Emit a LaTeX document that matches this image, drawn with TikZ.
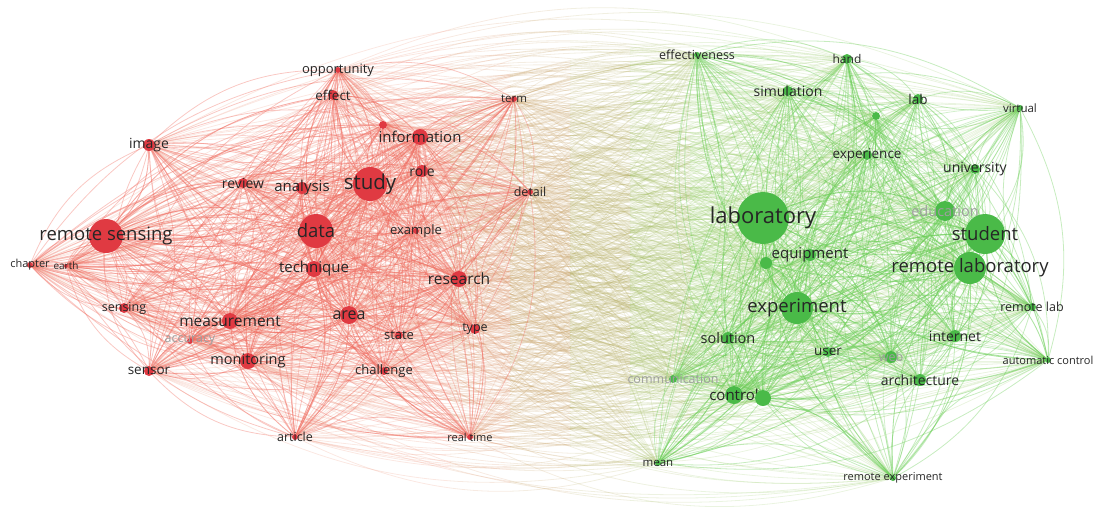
\documentclass[tikz,border=0pt]{standalone}
\usepackage{fontspec}
\setmainfont{Open Sans}
\usetikzlibrary{backgrounds}

\definecolor{vosred}{RGB}{224,58,66}
\definecolor{vosgreen}{RGB}{74,186,72}
\definecolor{redlink}{RGB}{240,110,98}
\definecolor{greenlink}{RGB}{108,206,88}
\definecolor{saltan}{RGB}{234,138,112}
\definecolor{olivelink}{RGB}{150,202,102}

\newcommand\redlist{opportunity,effect,information,redx,role,study,analysis,review,image,rsensing,chapter,earth,data,example,technique,research,area,measurement,sensing,accuracy,monitoring,sensor,state,type,challenge,article,realtime,term,detail}
\newcommand\greenlist{effectiveness,hand,simulation,greenx,lab,virtual,experience,university,laboratory,education,student,rlab,equipment,greeny,experiment,remotelab,solution,internet,user,web,autocontrol,communication,architecture,control,greenz,mean,rexperiment}
\newcommand\redhubs{study,data,rsensing,information,area,measurement,technique,research}
\newcommand\greenhubs{laboratory,experiment,student,rlab,education,control,equipment}

\newcommand\crosslinks[1]{%
  \foreach \a [count=\i] in \redlist {%
    \foreach \b [count=\j] in \greenlist {%
      \ifodd\numexpr\i+\j\relax
        \draw[#1] (\a) to[bend left=22] (\b);
      \else
        \draw[#1] (\b) to[bend left=22] (\a);
      \fi}}}
\newcommand\clusterlinks[2]{%
  \foreach \a [count=\i] in #1 {%
    \foreach \b [count=\j] in #1 {%
      \ifnum\j>\i
        \ifodd\numexpr\i+\j\relax
          \draw[#2] (\a) to[bend left=22] (\b);
        \else
          \draw[#2] (\b) to[bend left=22] (\a);
        \fi
      \fi}}}
\newcommand\hublinks[3]{%
  \foreach \a [count=\i] in #1 {%
    \foreach \b [count=\j] in #2 {%
      \ifodd\numexpr\i+\j\relax
        \draw[#3] (\a) to[bend left=22] (\b);
      \else
        \draw[#3] (\b) to[bend left=22] (\a);
      \fi}}}

\begin{document}
\begin{tikzpicture}[x=1pt,y=-1pt,
  rdot/.style={circle,inner sep=0pt,fill=vosred,minimum size=#1pt},
  gdot/.style={circle,inner sep=0pt,fill=vosgreen,minimum size=#1pt},
  lbl/.style={font=\fontsize{#1}{#1}\selectfont,text=black!85,inner sep=0pt},
  faint/.style={font=\fontsize{#1}{#1}\selectfont,text=black!38,inner sep=0pt},
  link/.style={line width=.8pt,draw opacity=.2}]
\useasboundingbox (0,0) rectangle (1098,531);

\node[rdot=6,label={[lbl=13]center:opportunity}] (opportunity) at (338,70) {};
\node[rdot=10,label={[lbl=13.5]center:effect}] (effect) at (333,95) {};
\node[rdot=8] (redx) at (383,125) {};
\node[rdot=16,label={[lbl=15]center:information}] (information) at (420,137) {};
\node[rdot=12,label={[lbl=14]center:role}] (role) at (422,171) {};
\node[rdot=34,label={[lbl=20.5]center:study}] (study) at (370,184) {};
\node[rdot=12,label={[lbl=15]center:analysis}] (analysis) at (302,188) {};
\node[rdot=10,label={[lbl=14]center:review}] (review) at (243,183) {};
\node[rdot=12,label={[lbl=14]center:image}] (image) at (149,145) {};
\node[rdot=34,label={[lbl=18.5]center:remote sensing}] (rsensing) at (106,236) {};
\node[rdot=6,label={[lbl=11]center:chapter}] (chapter) at (30,265) {};
\node[rdot=4,label={[lbl=10]center:earth}] (earth) at (66,266) {};
\node[rdot=34,label={[lbl=18.5]center:data}] (data) at (316,231) {};
\node[rdot=6,label={[lbl=13]center:example}] (example) at (416,231) {};
\node[rdot=16,label={[lbl=15]center:technique}] (technique) at (314,269) {};
\node[rdot=16,label={[lbl=15.5]center:research}] (research) at (459,279) {};
\node[rdot=18,label={[lbl=16]center:area}] (area) at (349,315) {};
\node[rdot=16,label={[lbl=15.5]center:measurement}] (measurement) at (230,321) {};
\node[rdot=10,label={[lbl=12.5]center:sensing}] (sensing) at (124,308) {};
\node[rdot=6,label={[faint=12.5]center:accuracy}] (accuracy) at (190,341) {};
\node[rdot=16,label={[lbl=14.5]center:monitoring}] (monitoring) at (248,361) {};
\node[rdot=10,label={[lbl=13.5]center:sensor}] (sensor) at (149,371) {};
\node[rdot=8,label={[lbl=13]center:state}] (state) at (399,335) {};
\node[rdot=10,label={[lbl=12.5]center:type}] (type) at (475,329) {};
\node[rdot=8,label={[lbl=13]center:challenge}] (challenge) at (384,371) {};
\node[rdot=6,label={[lbl=12.5]center:article}] (article) at (295,437) {};
\node[rdot=6,label={[lbl=11]center:real time}] (realtime) at (470,437) {};
\node[rdot=6,label={[lbl=11.5]center:term}] (term) at (514,99) {};
\node[rdot=6,label={[lbl=12.5]center:detail}] (detail) at (530,192) {};

\node[gdot=6,label={[lbl=12.5]center:effectiveness}] (effectiveness) at (697,55) {};
\node[gdot=10,label={[lbl=12]center:hand}] (hand) at (847,59) {};
\node[gdot=10,label={[lbl=14]center:simulation}] (simulation) at (788,91) {};
\node[gdot=8] (greenx) at (876,116) {};
\node[gdot=10,label={[lbl=13.5]center:lab}] (lab) at (918,99) {};
\node[gdot=6,label={[lbl=11.5]center:virtual}] (virtual) at (1020,108) {};
\node[gdot=10,label={[lbl=13.5]center:experience}] (experience) at (867,155) {};
\node[gdot=10,label={[lbl=14]center:university}] (university) at (975,169) {};
\node[gdot=52,label={[lbl=22]center:laboratory}] (laboratory) at (763,218) {};
\node[gdot=20,label={[faint=14.5]center:education}] (education) at (945,211) {};
\node[gdot=40,label={[lbl=18.5]center:student}] (student) at (985,234) {};
\node[gdot=32,label={[lbl=18.5]center:remote laboratory}] (rlab) at (970,268) {};
\node[gdot=12,label={[lbl=15]center:equipment}] (equipment) at (810,255) {};
\node[gdot=12] (greeny) at (766,263) {};
\node[gdot=32,label={[lbl=18.5]center:experiment}] (experiment) at (797,308) {};
\node[gdot=8,label={[lbl=12.5]center:remote lab}] (remotelab) at (1032,307) {};
\node[gdot=12,label={[lbl=14.5]center:solution}] (solution) at (728,338) {};
\node[gdot=12,label={[lbl=14]center:internet}] (internet) at (955,336) {};
\node[gdot=10,label={[lbl=13.5]center:user}] (user) at (828,352) {};
\node[gdot=12,label={[faint=12.5]center:web}] (web) at (891,357) {};
\node[gdot=6,label={[lbl=11]center:automatic control}] (autocontrol) at (1048,360) {};
\node[gdot=8,label={[faint=12.5]center:communication}] (communication) at (673,379) {};
\node[gdot=12,label={[lbl=14]center:architecture}] (architecture) at (920,380) {};
\node[gdot=18,label={[lbl=15]center:control}] (control) at (734,395) {};
\node[gdot=16] (greenz) at (763,398) {};
\node[gdot=6,label={[lbl=11.5]center:mean}] (mean) at (658,463) {};
\node[gdot=6,label={[lbl=11]center:remote experiment}] (rexperiment) at (893,478) {};

\begin{scope}[on background layer]
  \foreach \k/\xa/\xb in {0/0/450,1/450/510,2/510/570,3/570/630,4/630/690,5/690/1098} {
    \pgfmathtruncatemacro\mixp{\k*20}
    \begin{scope}
      \clip (\xa,0) rectangle (\xb,531);
      \crosslinks{link,draw=olivelink!\mixp!saltan}
    \end{scope}
  }
  \clusterlinks{\redlist}{link,draw=redlink,draw opacity=.38}
  \clusterlinks{\greenlist}{link,draw=greenlink,draw opacity=.38}
  \hublinks{\redhubs}{\redlist}{link,draw=redlink,draw opacity=.3}
  \hublinks{\greenhubs}{\greenlist}{link,draw=greenlink,draw opacity=.3}
\end{scope}
\end{tikzpicture}
\end{document}
